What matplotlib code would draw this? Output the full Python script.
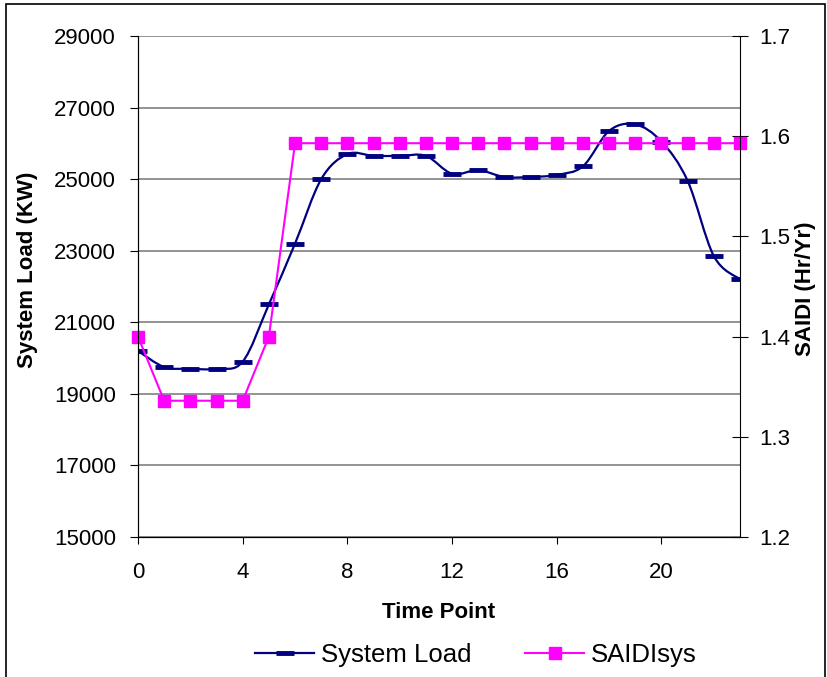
import matplotlib.pyplot as plt
from matplotlib.path import Path
from matplotlib.patches import PathPatch, Rectangle
from matplotlib.lines import Line2D

plt.rcParams['font.family'] = ['Liberation Sans', 'DejaVu Sans']

time_points = list(range(24))
system_load = [20200, 19750, 19700, 19700, 19900, 21500, 23200, 25000,
               25700, 25650, 25650, 25650, 25150, 25250, 25060, 25060,
               25120, 25360, 26350, 26530, 26050, 24950, 22850, 22200]
saidi_sys = [1.40, 1.336, 1.336, 1.336, 1.336, 1.40] + [1.593] * 18

load_ticks = [15000, 17000, 19000, 21000, 23000, 25000, 27000, 29000]
saidi_ticks = [1.2, 1.3, 1.4, 1.5, 1.6, 1.7]
x_ticks = [0, 4, 8, 12, 16, 20]

navy = '#000080'
pink = '#FF00FF'


def smooth_path(xs, ys):
    # excel-style smoothed line: cubic bezier through every point
    n = len(xs)
    verts = [(xs[0], ys[0])]
    codes = [Path.MOVETO]
    for i in range(n - 1):
        i0 = max(i - 1, 0)
        i3 = min(i + 2, n - 1)
        c1 = (xs[i] + (xs[i + 1] - xs[i0]) / 6, ys[i] + (ys[i + 1] - ys[i0]) / 6)
        c2 = (xs[i + 1] - (xs[i3] - xs[i]) / 6, ys[i + 1] - (ys[i3] - ys[i]) / 6)
        verts += [c1, c2, (xs[i + 1], ys[i + 1])]
        codes += [Path.CURVE4] * 3
    return Path(verts, codes)


W, H = 827, 677
fig = plt.figure(figsize=(W / 100, H / 100), dpi=100)
fig.patches.append(Rectangle((6 / W, -0.01), (825 - 6) / W, 1.01 - 4 / H,
                             transform=fig.transFigure, fill=False,
                             edgecolor='black', linewidth=1.2))

ax = fig.add_axes([138 / W, 1 - 537 / H, (740 - 138) / W, (537 - 36) / H])
ax.set_xlim(0, 23)
ax.set_ylim(15000, 29000)
ax.set_yticks(load_ticks)
ax.set_xticks(x_ticks)
ax.grid(axis='y', color='#808080', linewidth=1.2)
ax.set_axisbelow(True)
ax.tick_params(axis='y', direction='out', length=6, pad=10, labelsize=16)
ax.tick_params(axis='x', direction='out', length=5, pad=13, labelsize=16)
for s in ['top', 'right']:
    ax.spines[s].set_visible(False)

ax.add_patch(PathPatch(smooth_path(time_points, system_load), facecolor='none',
                       edgecolor=navy, linewidth=1.6, transform=ax.transData))
ax.plot(time_points, system_load, ls='none', marker='_', markersize=13,
        markeredgewidth=3.5, color=navy)

ax2 = ax.twinx()
ax2.set_xlim(0, 23)
ax2.set_ylim(1.2, 1.7)
ax2.set_yticks(saidi_ticks)
ax2.set_yticklabels([f'{v:.1f}' for v in saidi_ticks])
ax2.tick_params(axis='y', direction='inout', length=12, pad=8, labelsize=16)
ax2.spines['top'].set_visible(False)
ax2.plot(time_points, saidi_sys, color=pink, linewidth=1.5, marker='s',
         markersize=8.6, clip_on=False)

fig.text(28 / W, 1 - 270 / H, 'System Load (KW)', rotation=90, ha='center',
         va='center', fontsize=16, fontweight='bold')
fig.text(806 / W, 1 - 289 / H, 'SAIDI (Hr/Yr)', rotation=90, ha='center',
         va='center', fontsize=16, fontweight='bold')
fig.text(439 / W, 1 - 613 / H, 'Time Point', ha='center', va='center',
         fontsize=16, fontweight='bold')

handles = [Line2D([], [], color=navy, linewidth=1.6, marker='_',
                  markersize=13, markeredgewidth=3.5),
           Line2D([], [], color=pink, linewidth=1.5, marker='s', markersize=8.6)]
fig.legend(handles, ['System Load', 'SAIDIsys'], loc='center',
           bbox_to_anchor=(476 / W, 1 - 655 / H), ncol=2, frameon=False,
           fontsize=18.5, handlelength=2.3, columnspacing=2.1,
           handletextpad=0.25)

fig.savefig('out.png', dpi=100)
